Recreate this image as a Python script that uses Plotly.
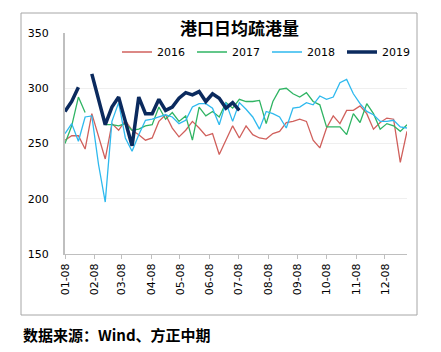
import pandas as pd
import plotly.graph_objects as go

# Weekly observation dates (plotted on a common calendar year)
dates = pd.date_range("2019-01-08", periods=52, freq="7D")

s2016 = [253, 257, 257, 245, 277, 256, 236, 268, 262, 271, 262, 258, 253, 255, 270, 276,
         264, 256, 262, 270, 264, 257, 259, 240, 253, 266, 255, 266, 258, 255, 254, 259,
         261, 269, 270, 272, 270, 253, 246, 264, 275, 268, 280, 280, 284, 277, 263, 269,
         273, 272, 233, 261]
s2017 = [250, 266, 292, 278, None, None, 267, 267, 266, 268, 262, 263, 266, 267, 283, 272,
         278, 270, 275, 253, 283, 275, 279, 274, 287, 282, 290, 288, 288, 289, 268, 288,
         299, 300, 295, 292, 296, 288, 285, 265, 265, 265, 258, 277, 269, 286, 277, 263,
         268, 266, 261, 267]
s2018 = [259, 268, 252, 274, 275, 231, 197, 270, 287, 255, 243, 258, 271, 272, 274, 276,
         274, 268, 271, 283, 286, 286, 282, 267, 287, 270, 287, 281, 274, 263, 279, 277,
         274, 264, 282, 283, 287, 285, 293, 290, 292, 305, 308, 295, 286, 279, 276, 270,
         270, 271, 265, 264]
s2019 = [279, 288, 301, None, 313, 290, 267, 283, 292, 270, 248, 292, 277, 277, 290, 280,
         283, 291, 296, 294, 297, 288, 295, 291, 282, 287, 280]

series = [
    ("2016", s2016, "#D0605C", 1.3),
    ("2017", s2017, "#2FB463", 1.3),
    ("2018", s2018, "#2EB9EE", 1.3),
    ("2019", s2019, "#0B2A5E", 3.5),
]

fig = go.Figure()
for name, vals, color, w in series:
    fig.add_trace(go.Scatter(
        x=dates[:len(vals)], y=vals, mode="lines", name=name,
        line=dict(color=color, width=w), connectgaps=False,
    ))

W, H = 441, 352
L, R, T, B = 65, 34, 33, 98
pw, ph = W - L - R, H - T - B

def px(x):
    return (x - L) / pw

def py(y):
    return (H - B - y) / ph

fig.update_layout(
    width=W, height=H,
    margin=dict(l=L, r=R, t=T, b=B),
    paper_bgcolor="white", plot_bgcolor="white",
    font=dict(family="DejaVu Sans", size=11, color="#000000"),
    showlegend=True,
    legend=dict(orientation="h", x=px(117), y=py(52), xanchor="left", yanchor="middle",
                entrywidth=30, entrywidthmode="pixels",
                font=dict(family="DejaVu Sans", size=11, color="#000000"),
                bgcolor="rgba(0,0,0,0)", tracegroupgap=0),
    xaxis=dict(
        type="date", range=["2019-01-08", "2019-12-31"],
        tick0="2019-01-08", dtick="M1", tickformat="%m-%d", tickangle=-90,
        showgrid=False, showline=True, linecolor="#BFBFBF", linewidth=1,
        ticks="outside", ticklen=4, tickcolor="#BFBFBF",
        tickfont=dict(family="DejaVu Sans", size=11, color="#000000"),
        zeroline=False,
    ),
    yaxis=dict(
        range=[150, 350], dtick=50, tick0=150,
        showgrid=True, gridcolor="#EFEFEF", gridwidth=1,
        showline=True, linecolor="#BFBFBF", linewidth=2,
        ticks="", ticklabelstandoff=12,
        tickfont=dict(family="DejaVu Sans", size=11, color="#000000"),
        zeroline=False,
    ),
    shapes=[dict(type="rect", xref="paper", yref="paper",
                 x0=px(21), x1=px(417), y0=py(315), y1=py(13),
                 line=dict(color="#A6A6A6", width=1), fillcolor="rgba(0,0,0,0)",
                 layer="below")],
    annotations=[
        dict(text="<b>港口日均疏港量</b>", xref="paper", yref="paper",
             x=px(239), y=py(27), xanchor="center", yanchor="middle", showarrow=False,
             font=dict(family="Noto Sans CJK SC", size=17, color="#000000")),
        dict(text="<b>数据来源：Wind、方正中期</b>", xref="paper", yref="paper",
             x=px(21), y=py(334), xanchor="left", yanchor="middle", showarrow=False,
             font=dict(family="Noto Sans CJK SC", size=15, color="#000000")),
    ],
)

fig.write_html("out.html")
